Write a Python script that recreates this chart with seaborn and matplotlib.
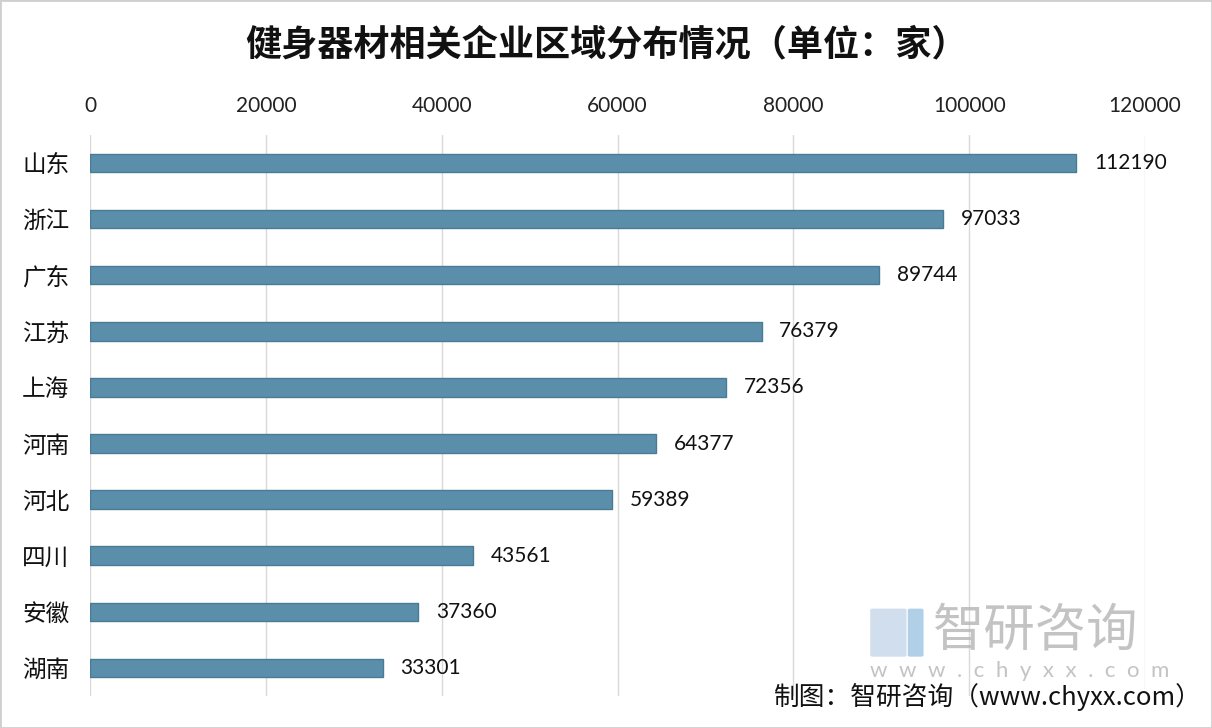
import matplotlib
matplotlib.use("Agg")
import matplotlib.pyplot as plt
import matplotlib.patches as mpatches
import pandas as pd
import seaborn as sns

# data
provinces = ["山东", "浙江", "广东", "江苏", "上海", "河南", "河北", "四川", "安徽", "湖南"]
counts = [112190, 97033, 89744, 76379, 72356, 64377, 59389, 43561, 37360, 33301]
x_ticks = [0, 20000, 40000, 60000, 80000, 100000, 120000]

TITLE = "健身器材相关企业区域分布情况（单位：家）"
SOURCE = "制图：智研咨询（www.chyxx.com）"

BAR_COLOR = "#5a8eaa"
EDGE_COLOR = "#4a7b95"
GRID_COLOR = "#d9d9d9"

sns.set_theme(style="white")
plt.rcParams["font.family"] = ["Noto Sans CJK SC", "DejaVu Sans"]

df = pd.DataFrame({"province": provinces, "count": counts})

fig = plt.figure(figsize=(12.12, 7.28), dpi=100)
ax = fig.add_axes([0.0743, 0.044, 0.8704, 0.7706])

sns.barplot(data=df, x="count", y="province", orient="h", color=BAR_COLOR,
            width=0.33, edgecolor=EDGE_COLOR, linewidth=1.0, saturation=1, ax=ax)

ax.set_xlim(0, 120000)
ax.set_xticks(x_ticks)
ax.xaxis.tick_top()
ax.set_xticklabels([str(t) for t in x_ticks], fontsize=15, family=["Lato", "DejaVu Sans"],
                   color="#222222")
ax.tick_params(axis="x", length=0, pad=14)
ax.tick_params(axis="y", length=0, pad=15)
for lbl in ax.get_yticklabels():
    lbl.set_fontsize(17)
    lbl.set_color("#111111")
ax.set_xlabel("")
ax.set_ylabel("")
ax.grid(axis="x", color=GRID_COLOR, linewidth=1.0)
ax.set_axisbelow(True)
for s in ax.spines.values():
    s.set_visible(False)

for i, v in enumerate(counts):
    ax.text(v + 2000, i, str(v), va="center", ha="left", fontsize=15,
            family=["Lato", "DejaVu Sans"], color="#111111")

fig.text(0.5, 0.938, TITLE, ha="center", va="center", fontsize=26,
         fontweight="bold", color="#111111")

# watermark
fig.text(0.770, 0.133, "智研咨询", ha="left", va="center", fontsize=37,
         color="#b5b5b5", alpha=0.8)
fig.text(0.718, 0.078, "w  w  w  .  c  h  y  x  x  .  c  o  m", ha="left", va="center",
         fontsize=16, color="#b5b5b5", alpha=0.8, family=["Lato", "DejaVu Sans"])
fig.patches.append(mpatches.FancyBboxPatch((0.72, 0.10), 0.026, 0.062, boxstyle="round,pad=0.002",
                                           transform=fig.transFigure, facecolor="#c5d6ea",
                                           edgecolor="none", alpha=0.8))
fig.patches.append(mpatches.FancyBboxPatch((0.751, 0.10), 0.009, 0.062, boxstyle="round,pad=0.002",
                                           transform=fig.transFigure, facecolor="#9fc3e3",
                                           edgecolor="none", alpha=0.8))

fig.text(0.992, 0.042, SOURCE, ha="right", va="center", fontsize=18.5, color="#111111")

# light frame
fig.patches.append(mpatches.Rectangle((0, 0), 1, 1, transform=fig.transFigure, fill=False,
                                      edgecolor="#cfcfcf", linewidth=2))

fig.savefig("out.png", dpi=100)
